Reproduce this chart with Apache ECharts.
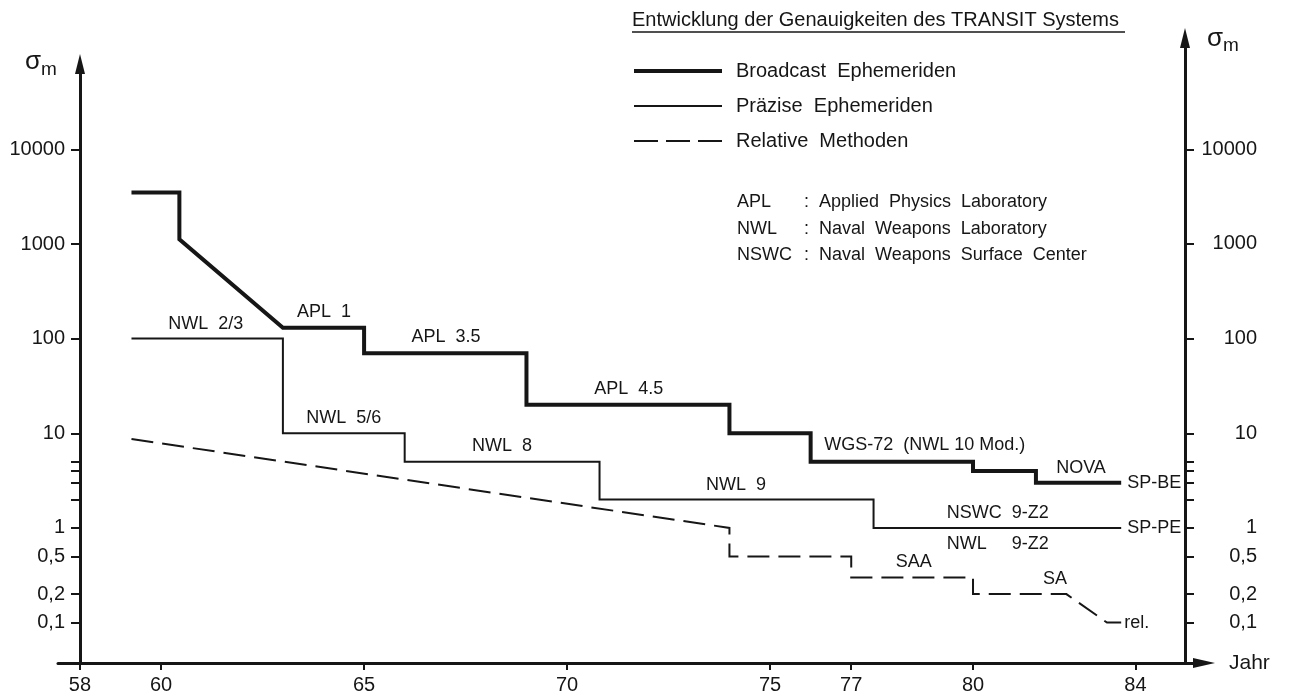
<!DOCTYPE html>
<html>
<head>
<meta charset="utf-8">
<title>Entwicklung der Genauigkeiten des TRANSIT Systems</title>
<script src="https://cdn.jsdelivr.net/npm/echarts@6/dist/echarts.min.js"></script>
<style>
  html, body { margin: 0; padding: 0; background: #fff; }
  #chart { width: 1290px; height: 697px; }
</style>
</head>
<body>
<div id="chart"></div>
<script>
// sigma_m (m) over Jahr
const broadcastYears = [59.27, 60.45, 60.45, 63, 65, 65, 69, 69, 74, 74, 76, 76, 80, 80, 81.55, 81.55, 83.65];
const broadcastSigma = [3500, 3500, 1120, 130, 130, 70, 70, 20, 20, 10, 10, 5, 5, 4, 4, 3, 3];

const preciseYears = [59.27, 63, 63, 66, 66, 70.8, 70.8, 77.55, 77.55, 83.65];
const preciseSigma = [100, 100, 10, 10, 5, 5, 2, 2, 1, 1];

const relativeYears = [59.27, 74, 74, 77, 77, 80, 80, 82.3, 83.3, 83.65];
const relativeSigma = [8.7, 1, 0.5, 0.5, 0.3, 0.3, 0.2, 0.2, 0.1, 0.1];

// names written on the steps
const stepLabels = ["NWL  2/3", "APL  1", "APL  3.5", "NWL  5/6", "NWL  8", "APL  4.5",
  "WGS-72  (NWL 10 Mod.)", "NWL  9", "SAA", "NOVA", "NSWC  9-Z2", "NWL     9-Z2", "SA"];
const stepLabelYears = [61.1, 64.01, 67.02, 64.5, 68.4, 71.52, 78.81, 74.16, 78.54, 82.66, 80.61, 80.61, 82.02];
const stepLabelSigma = [143, 192, 104, 14.6, 7.4, 29.4, 7.5, 2.85, 0.44, 4.3, 1.44, 0.68, 0.29];

const yearTicks = [58, 60, 65, 70, 75, 77, 80, 84];
const sigmaLabels = [0.1, 0.2, 0.5, 1, 10, 100, 1000, 10000];
const sigmaMinorTicks = [2, 3, 4, 5];

const yearMin = 57.46, yearMax = 85.69;
const sigmaMin = 0.0374, sigmaMaxLeft = 8e4, sigmaMaxRight = 1.5e5;

const seriesNames = ["Broadcast  Ephemeriden", "Präzise  Ephemeriden", "Relative  Methoden"];

const FONT = "'Liberation Sans', Arial, Helvetica, sans-serif";
const INK = "#161616";

// log axis is done as a value axis over log10(sigma)
const toPoints = (years, sigma) => years.map((y, i) => [y, Math.log10(sigma[i])]);

function sigmaText(logValue) {
  const v = Number(Math.pow(10, logValue).toPrecision(3));
  return String(v).replace(".", ",");
}

const labelTicks = sigmaLabels.map(Math.log10);
const allTicks = sigmaLabels.concat(sigmaMinorTicks).map(Math.log10);

function yAxisBase(gridIndex, position, maxSigma, offset, labelMargin) {
  return {
    type: "value",
    gridIndex: gridIndex,
    position: position,
    offset: offset,
    min: Math.log10(sigmaMin),
    max: Math.log10(maxSigma),
    splitLine: { show: false },
    axisLine: {
      show: true,
      onZero: false,
      symbol: ["none", "triangle"],
      symbolSize: [10, 20],
      lineStyle: { color: INK, width: 3 },
    },
    axisTick: {
      show: true,
      customValues: allTicks,
      length: 9,
      lineStyle: { color: INK, width: 2 },
    },
    axisLabel: {
      customValues: labelTicks,
      formatter: sigmaText,
      fontSize: 20,
      color: INK,
      fontFamily: FONT,
      margin: labelMargin,
      align: "right",
    },
  };
}

const lineBase = {
  type: "line",
  xAxisIndex: 0,
  yAxisIndex: 0,
  symbol: "none",
  showSymbol: false,
  silent: true,
  itemStyle: { color: INK },
};

const option = {
  animation: false,
  textStyle: { fontFamily: FONT, color: INK },
  title: {
    text: "Entwicklung der Genauigkeiten des TRANSIT Systems",
    left: 632,
    top: 10,
    padding: 0,
    textStyle: { fontSize: 20, fontWeight: "normal", color: INK, fontFamily: FONT },
  },
  legend: {
    orient: "vertical",
    left: 632,
    top: 61,
    padding: 0,
    itemWidth: 88,
    itemHeight: 24,
    itemGap: 15,
    selectedMode: false,
    itemStyle: { opacity: 0 },
    textStyle: { fontSize: 20, color: INK, fontFamily: FONT, padding: [0, 0, 0, 9] },
    data: [
      { name: seriesNames[0], lineStyle: { width: 4, color: INK, type: "solid" } },
      { name: seriesNames[1], lineStyle: { width: 2, color: INK, type: "solid" } },
      { name: seriesNames[2], lineStyle: { width: 2, color: INK, type: [24, 8] } },
    ],
  },
  grid: [
    { left: 58, right: 86, top: 38, bottom: 34 },
    { left: 58, right: 86, top: 64, bottom: 34 },
  ],
  xAxis: [
    {
      type: "value",
      gridIndex: 0,
      min: yearMin,
      max: yearMax,
      splitLine: { show: false },
      axisLine: {
        onZero: false,
        symbol: ["none", "triangle"],
        symbolSize: [10, 22],
        lineStyle: { color: INK, width: 3 },
      },
      axisTick: {
        customValues: yearTicks,
        length: 7,
        lineStyle: { color: INK, width: 2 },
      },
      axisLabel: {
        customValues: yearTicks,
        fontSize: 20,
        margin: 12,
        color: INK,
        fontFamily: FONT,
      },
      name: "Jahr",
      nameLocation: "end",
      nameGap: 25,
      nameTextStyle: { fontSize: 21, color: INK, fontFamily: FONT },
    },
    { type: "value", gridIndex: 1, min: yearMin, max: yearMax, show: false },
  ],
  yAxis: [
    yAxisBase(0, "right", sigmaMaxRight, -19, 72),
    yAxisBase(1, "left", sigmaMaxLeft, -22, 15),
  ],
  graphic: [
    { type: "line", shape: { x1: 632, y1: 32, x2: 1125, y2: 32 }, style: { stroke: INK, lineWidth: 1.5 } },
    {
      type: "text", left: 737, top: 189,
      style: { text: "APL\nNWL\nNSWC", font: "18px " + FONT, fill: INK, lineHeight: 26.5 },
    },
    {
      type: "text", left: 804, top: 189,
      style: { text: ":\n:\n:", font: "18px " + FONT, fill: INK, lineHeight: 26.5 },
    },
    {
      type: "text", left: 819, top: 189,
      style: {
        text: "Applied  Physics  Laboratory\nNaval  Weapons  Laboratory\nNaval  Weapons  Surface  Center",
        font: "18px " + FONT, fill: INK, lineHeight: 26.5,
      },
    },
    { type: "text", x: 25, y: 62, style: { text: "σ", font: "26px " + FONT, fill: INK, verticalAlign: "middle" } },
    { type: "text", x: 41, y: 70, style: { text: "m", font: "19px " + FONT, fill: INK, verticalAlign: "middle" } },
    { type: "text", x: 1207, y: 39, style: { text: "σ", font: "26px " + FONT, fill: INK, verticalAlign: "middle" } },
    { type: "text", x: 1223, y: 46, style: { text: "m", font: "19px " + FONT, fill: INK, verticalAlign: "middle" } },
  ],
  series: [
    {
      ...lineBase,
      name: seriesNames[0],
      data: toPoints(broadcastYears, broadcastSigma),
      lineStyle: { color: INK, width: 4, join: "miter", cap: "butt" },
      endLabel: { show: true, formatter: "SP-BE", fontSize: 18, color: INK, fontFamily: FONT, distance: 6 },
    },
    {
      ...lineBase,
      name: seriesNames[1],
      data: toPoints(preciseYears, preciseSigma),
      lineStyle: { color: INK, width: 2, join: "miter", cap: "butt" },
      endLabel: { show: true, formatter: "SP-PE", fontSize: 18, color: INK, fontFamily: FONT, distance: 6 },
    },
    {
      ...lineBase,
      name: seriesNames[2],
      data: toPoints(relativeYears, relativeSigma),
      lineStyle: { color: INK, width: 2, type: [22, 9], join: "miter", cap: "butt" },
      endLabel: { show: true, formatter: "rel.", fontSize: 18, color: INK, fontFamily: FONT, distance: 3 },
    },
    {
      type: "scatter",
      name: "labels",
      xAxisIndex: 0,
      yAxisIndex: 0,
      silent: true,
      symbolSize: 1,
      itemStyle: { color: "rgba(0,0,0,0)", opacity: 1 },
      data: stepLabels.map((t, i) => ({ value: [stepLabelYears[i], Math.log10(stepLabelSigma[i])], name: t })),
      label: {
        show: true,
        position: "inside",
        formatter: (p) => p.name,
        fontSize: 18,
        color: INK,
        fontFamily: FONT,
      },
    },
  ],
};

const chart = echarts.init(document.getElementById("chart"));
chart.setOption(option);
</script>
</body>
</html>
